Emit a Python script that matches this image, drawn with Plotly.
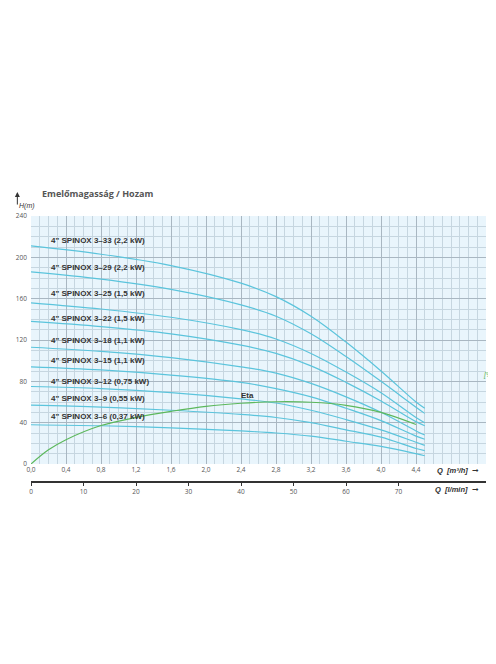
import plotly.graph_objects as go

Q = [0.0, 0.8, 1.6, 2.4, 2.8, 3.2, 3.6, 4.0, 4.4, 4.5]
pumps = [
    ("4\" SPINOX 3–33 (2,2 kW)", [211, 203, 192, 175, 162, 143, 118, 90, 60, 54], 216),
    ("4\" SPINOX 3–29 (2,2 kW)", [186, 179, 169, 154, 143, 126, 104, 80, 55, 49], 190),
    ("4\" SPINOX 3–25 (1,5 kW)", [156, 150, 142, 130, 121, 107, 89, 69, 45, 40], 165),
    ("4\" SPINOX 3–22 (1,5 kW)", [138, 133, 126, 115, 107, 95, 79, 61, 41, 37], 141),
    ("4\" SPINOX 3–18 (1,1 kW)", [113, 109, 103, 94, 88, 78, 65, 50, 32, 28], 120),
    ("4\" SPINOX 3–15 (1,1 kW)", [94, 91, 86, 79, 73, 65, 54, 42, 27, 24], 100),
    ("4\" SPINOX 3–12 (0,75 kW)", [75, 73, 69, 63, 59, 52, 43, 33, 21, 18], 80),
    ("4\" SPINOX 3–9 (0,55 kW)", [57, 55, 52, 48, 45, 40, 33, 26, 15, 13], 63),
    ("4\" SPINOX 3–6 (0,37 kW)", [38, 37, 35, 32, 30, 27, 22, 17, 10, 8], 45.5),
]
Q_eta = [0.0, 0.2, 0.4, 0.8, 1.2, 1.6, 2.0, 2.4, 2.8, 3.2, 3.6, 4.0, 4.4]
eta = [0, 14, 24, 38, 46, 52, 57, 60, 61.5, 61, 58, 51, 39]
x_ticks = [0.0, 0.4, 0.8, 1.2, 1.6, 2.0, 2.4, 2.8, 3.2, 3.6, 4.0, 4.4]
x_labels = ["0,0", "0,4", "0,8", "1,2", "1,6", "2,0", "2,4", "2,8", "3,2", "3,6", "4,0", "4,4"]
lmin_ticks = [0, 10, 20, 30, 40, 50, 60, 70]
y_ticks = [0, 40, 80, 120, 160, 200, 240]
eta_ticks = [0, 15, 30, 45, 60, 75]

CY = "#5bc4dc"
GR = "#5cb85c"
NF = "Liberation Sans Narrow, Arial Narrow, sans-serif"
fig = go.Figure()
for name, h, ly in pumps:
    fig.add_trace(go.Scatter(x=Q, y=h, mode="lines", line=dict(color=CY, width=1.2, shape="spline"),
                             showlegend=False, hoverinfo="skip"))
    fig.add_annotation(x=0.2, y=ly, text="<b>" + name + "</b>", showarrow=False, xanchor="left",
                       font=dict(family=NF, size=8, color="#333"))
fig.add_trace(go.Scatter(x=Q_eta, y=eta, yaxis="y2", mode="lines",
                         line=dict(color=GR, width=1.2, shape="spline"), showlegend=False))
fig.add_trace(go.Scatter(x=[0], y=[0], xaxis="x2", mode="markers", marker=dict(opacity=0),
                         showlegend=False, hoverinfo="skip"))
fig.add_annotation(x=2.47, y=66, text="<b>Eta</b>", showarrow=False, font=dict(family=NF, size=8, color="#333"))

dom0 = (474 - 456) / (474 - 208)
fig.update_layout(
    width=496, height=664, paper_bgcolor="white", plot_bgcolor="#e9f5fc",
    margin=dict(l=23, r=18, t=208, b=190, autoexpand=False),
    font=dict(family="Open Sans, sans-serif", size=6.5, color="#555"),
    xaxis=dict(range=[0, 5.2], tickvals=x_ticks, ticktext=x_labels, showgrid=True, automargin=False,
               gridcolor="#a9b7c2", gridwidth=1, minor=dict(dtick=0.1, showgrid=True, gridcolor="#c6d6e0"),
               zeroline=False, ticks="", anchor="y", showline=False),
    yaxis=dict(range=[0, 240], domain=[dom0, 1], tickvals=y_ticks, showgrid=True, automargin=False,
               gridcolor="#a9b7c2", minor=dict(dtick=10, showgrid=True, gridcolor="#c6d6e0"),
               zeroline=False, ticks="", ticklabelstandoff=3),
    yaxis2=dict(range=[0, 245], overlaying="y", side="right", tickvals=eta_ticks, showgrid=False,
                automargin=False, zeroline=False, tickfont=dict(color=GR, size=6.5), ticklabelstandoff=3),
    xaxis2=dict(range=[0, 5.2 * 1000 / 60], overlaying="x", anchor="free", position=0, side="bottom",
                automargin=False, tickvals=lmin_ticks, showgrid=False, zeroline=False, showline=True,
                linecolor="#333", linewidth=1.5, ticks="outside", ticklen=3, tickcolor="#333"),
)
fig.add_annotation(xref="paper", yref="paper", x=0.02, y=1.115, text="<b>Emelőmagasság / Hozam</b>",
                   showarrow=False, xanchor="left", font=dict(size=9, color="#555", family="Open Sans, sans-serif"))
fig.add_annotation(xref="paper", yref="paper", x=-0.03, y=1.09, ax=0, ay=14, text="", showarrow=True,
                   arrowhead=2, arrowsize=1, arrowwidth=1, arrowcolor="#333")
fig.add_annotation(xref="paper", yref="paper", x=-0.03, y=1.06, text="<i>H(m)</i>", showarrow=False,
                   font=dict(size=7, color="#333", family=NF))
fig.add_annotation(xref="paper", yref="y2", x=1.025, y=88, text="<i>[%]</i>", showarrow=False,
                   font=dict(size=7, color=GR, family=NF))
fig.add_annotation(xref="paper", yref="paper", x=0.99, y=dom0, text="<b><i>Q  [m³/h]</i></b>  ➞", showarrow=False,
                   xanchor="right", yanchor="top", font=dict(size=7.5, color="#333", family=NF))
fig.add_annotation(xref="paper", yref="paper", x=0.99, y=-0.005, text="<b><i>Q  [l/min]</i></b>  ➞", showarrow=False,
                   xanchor="right", yanchor="top", font=dict(size=7.5, color="#333", family=NF))
fig.write_html("out.html")
